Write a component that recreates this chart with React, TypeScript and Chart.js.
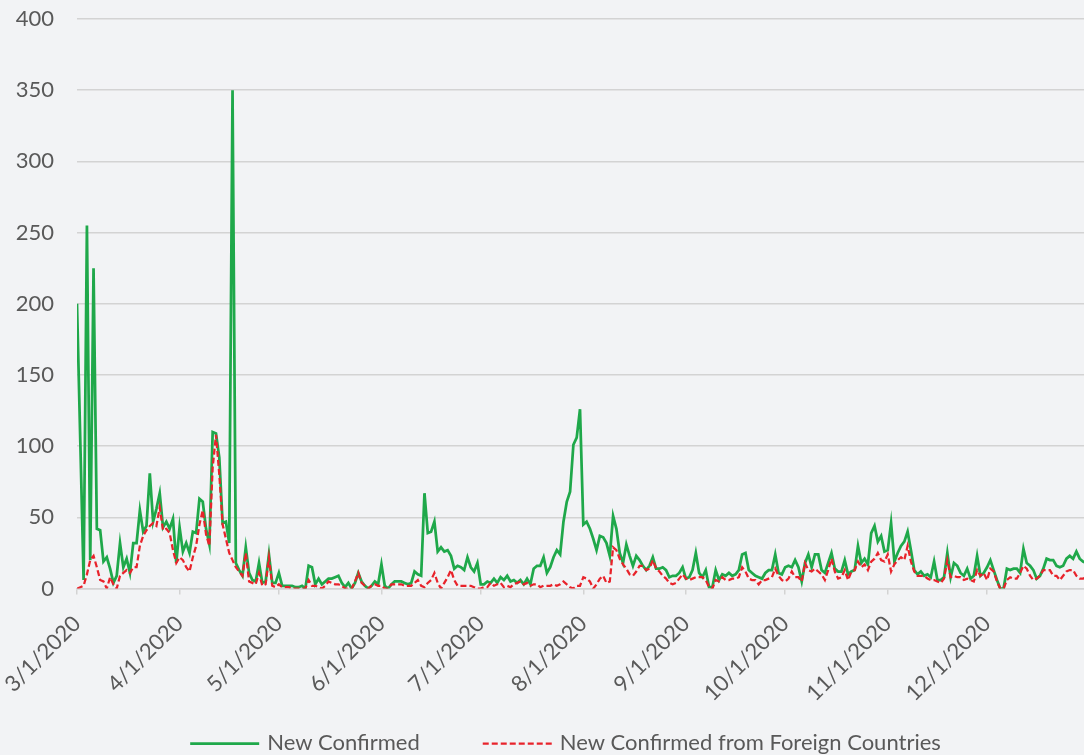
import React, { useEffect, useRef } from "react";
import { Chart, registerables } from "chart.js";

Chart.register(...registerables);

// ---- data (daily values from 3/1/2020, index 0) ----
const monthTickIndex = [0, 31, 61, 92, 122, 153, 184, 214, 245, 275];
const monthTickLabels = [
  "3/1/2020", "4/1/2020", "5/1/2020", "6/1/2020", "7/1/2020",
  "8/1/2020", "9/1/2020", "10/1/2020", "11/1/2020", "12/1/2020",
];
const seriesLabels = ["New Confirmed", "New Confirmed from Foreign Countries"];

const newConfirmed = [
  200, 103, 6, 255, 20, 225, 42, 41, 19, 22,
  14, 4, 9, 32, 15, 21, 11, 32, 32, 55,
  40, 44, 81, 47, 56, 67, 43, 47, 42, 49,
  18, 43, 26, 32, 25, 40, 39, 63, 61, 42,
  31, 110, 109, 92, 46, 47, 32, 350, 18, 13,
  9, 29, 11, 6, 5, 18, 4, 5, 24, 4,
  4, 11, 2, 2, 2, 2, 1, 1, 2, 0,
  16, 15, 3, 7, 3, 5, 7, 7, 8, 9,
  4, 1, 4, 0, 4, 11, 5, 2, 0, 2,
  5, 3, 17, 2, 0, 3, 5, 5, 5, 4,
  3, 4, 12, 10, 9, 67, 39, 40, 47, 26,
  29, 26, 27, 23, 14, 16, 15, 13, 22, 15,
  12, 18, 3, 3, 5, 4, 7, 4, 8, 6,
  9, 5, 6, 4, 6, 3, 7, 3, 14, 16,
  16, 22, 11, 15, 22, 27, 24, 47, 61, 68,
  101, 106, 126, 45, 47, 42, 35, 27, 37, 36,
  32, 23, 51, 42, 25, 18, 31, 23, 16, 23,
  20, 16, 13, 16, 22, 14, 14, 15, 13, 8,
  9, 9, 11, 15, 7, 8, 13, 25, 11, 8,
  13, 1, 1, 13, 6, 10, 9, 11, 9, 10,
  13, 24, 25, 13, 11, 9, 8, 7, 11, 13,
  13, 24, 11, 10, 15, 16, 15, 20, 15, 5,
  18, 24, 15, 24, 24, 13, 11, 18, 25, 14,
  12, 12, 20, 10, 12, 13, 30, 18, 21, 17,
  39, 44, 33, 37, 26, 27, 46, 19, 25, 30,
  33, 40, 27, 13, 10, 12, 9, 10, 8, 19,
  6, 6, 8, 25, 8, 18, 16, 11, 9, 14,
  7, 9, 23, 9, 11, 15, 20, 13, 6, 0,
  0, 14, 13, 14, 14, 11, 28, 18, 16, 13,
  7, 9, 14, 21, 20, 20, 16, 15, 16, 21,
  23, 21, 26, 21, 19, 18,
];

const newFromForeign = [
  0, 1, 2, 10, 20, 23, 15, 6, 5, 0,
  8, 3, 0, 9, 11, 13, 11, 15, 15, 30,
  37, 41, 44, 46, 44, 57, 41, 42, 39, 27,
  18, 22, 20, 15, 12, 22, 30, 45, 55, 38,
  30, 85, 108, 80, 45, 35, 25, 20, 15, 12,
  9, 25, 5, 4, 3, 11, 2, 3, 22, 2,
  1, 3, 1, 1, 1, 0, 0, 0, 0, 0,
  6, 2, 2, 1, 0, 2, 5, 4, 3, 3,
  2, 0, 0, 0, 5, 11, 4, 2, 0, 2,
  3, 2, 2, 0, 0, 3, 3, 3, 3, 2,
  2, 2, 4, 6, 2, 1, 4, 6, 11, 4,
  0, 4, 8, 13, 6, 2, 2, 2, 2, 2,
  1, 0, 0, 1, 1, 4, 2, 3, 4, 1,
  2, 1, 3, 4, 5, 3, 4, 2, 3, 3,
  1, 2, 2, 2, 3, 2, 3, 5, 3, 1,
  0, 2, 2, 8, 7, 5, 0, 3, 7, 9,
  4, 5, 29, 27, 21, 17, 14, 10, 9, 12,
  16, 16, 13, 14, 20, 14, 12, 9, 7, 4,
  3, 4, 7, 10, 7, 6, 7, 8, 8, 8,
  6, 1, 0, 6, 5, 8, 6, 6, 7, 7,
  8, 15, 12, 7, 6, 6, 3, 6, 6, 7,
  8, 14, 9, 6, 5, 7, 12, 8, 8, 5,
  18, 13, 12, 14, 12, 10, 6, 13, 21, 12,
  7, 8, 13, 6, 12, 13, 19, 15, 17, 13,
  19, 21, 25, 20, 19, 24, 12, 17, 20, 22,
  20, 30, 19, 12, 9, 9, 9, 7, 6, 6,
  5, 4, 7, 20, 8, 9, 8, 8, 6, 7,
  6, 5, 13, 9, 11, 6, 14, 12, 5, 0,
  0, 6, 8, 7, 7, 11, 16, 14, 9, 6,
  7, 9, 13, 13, 13, 9, 9, 6, 9, 12,
  13, 13, 9, 7, 7, 8,
];

// ---- layout / style ----
const WIDTH = 1084;
const HEIGHT = 755;
const FONT = "Lato";
const FONT_SIZE = 22;
const TEXT_COLOR = "#595959";
const GREEN = "#1fa84a";
const RED = "#e8232b";
const BG = "#f2f3f5";
const GRID = "#d3d3d3";
const PLOT_LEFT = 77;
const PLOT_TOP = 19;
const PLOT_BOTTOM = 588.6;
const VISIBLE_MAX = 304.3;
const LEGEND_CX = 565.5;
const LEGEND_Y = 742.5;
const LEGEND_SAMPLE = 69;
const LEGEND_GAP = 8;
const LEGEND_ITEM_GAP = 63;

const legendPlugin = {
  id: "customLegend",
  afterDraw(chart: any) {
    const ctx = chart.ctx as CanvasRenderingContext2D;
    ctx.save();
    ctx.font = `${FONT_SIZE}px ${FONT}`;
    const items = chart.data.datasets.map((ds: any) => ({
      ds,
      w: LEGEND_SAMPLE + LEGEND_GAP + ctx.measureText(ds.label).width,
    }));
    const total =
      items.reduce((a: number, b: any) => a + b.w, 0) + LEGEND_ITEM_GAP * (items.length - 1);
    let x = LEGEND_CX - total / 2;
    items.forEach(({ ds, w }: any) => {
      ctx.beginPath();
      ctx.setLineDash(ds.borderDash || []);
      ctx.lineWidth = ds.borderWidth;
      ctx.strokeStyle = ds.borderColor;
      ctx.moveTo(x, LEGEND_Y + 1);
      ctx.lineTo(x + LEGEND_SAMPLE, LEGEND_Y + 1);
      ctx.stroke();
      ctx.setLineDash([]);
      ctx.fillStyle = TEXT_COLOR;
      ctx.textAlign = "left";
      ctx.textBaseline = "middle";
      ctx.fillText(ds.label, x + LEGEND_SAMPLE + LEGEND_GAP, LEGEND_Y);
      x += w + LEGEND_ITEM_GAP;
    });
    ctx.restore();
  },
};

export default function App() {
  const ref = useRef<HTMLCanvasElement>(null);

  useEffect(() => {
    document.body.style.margin = "0";
    let chart: Chart | null = null;
    let cancelled = false;
    const font = { family: FONT, size: FONT_SIZE };
    const build = () => {
      if (cancelled || !ref.current) return;
      chart = new Chart(ref.current, {
        type: "line",
        data: {
          datasets: [
            {
              label: seriesLabels[0],
              data: newConfirmed.map((y, x) => ({ x, y })),
              borderColor: GREEN,
              backgroundColor: GREEN,
              borderWidth: 2.75,
              pointRadius: 0,
              tension: 0,
              fill: false,
              order: 1,
            },
            {
              label: seriesLabels[1],
              data: newFromForeign.map((y, x) => ({ x, y })),
              borderColor: RED,
              backgroundColor: RED,
              borderWidth: 2.25,
              borderDash: [6, 3],
              pointRadius: 0,
              tension: 0,
              fill: false,
              order: 0,
            },
          ],
        },
        options: {
          responsive: false,
          animation: false,
          devicePixelRatio: 1,
          layout: { padding: { top: PLOT_TOP, left: 0, right: 0, bottom: 0 } },
          plugins: { legend: { display: false }, tooltip: { enabled: false } },
          scales: {
            x: {
              type: "linear",
              min: 0,
              max: VISIBLE_MAX,
              afterBuildTicks: (axis: any) => {
                axis.ticks = monthTickIndex.map((value) => ({ value }));
              },
              afterFit: (axis: any) => {
                axis.height = HEIGHT - PLOT_BOTTOM;
                axis.paddingLeft = 0;
                axis.paddingRight = 0;
              },
              grid: {
                drawOnChartArea: false,
                drawTicks: true,
                tickLength: 6,
                color: GRID,
                lineWidth: 1.5,
              },
              border: { display: true, color: GRID, width: 1.5 },
              ticks: {
                autoSkip: false,
                minRotation: 45,
                maxRotation: 45,
                padding: 16,
                color: TEXT_COLOR,
                font,
                callback: (v: any) => monthTickLabels[monthTickIndex.indexOf(Number(v))] ?? "",
              },
            },
            y: {
              min: 0,
              max: 400,
              afterFit: (axis: any) => {
                axis.width = PLOT_LEFT;
                axis.paddingTop = 0;
                axis.paddingBottom = 0;
              },
              grid: { color: GRID, lineWidth: 1.5, drawTicks: false },
              border: { display: false },
              ticks: { stepSize: 50, padding: 23, color: TEXT_COLOR, font },
            },
          },
        },
        plugins: [legendPlugin],
      } as any);
    };
    const fonts = (document as any).fonts;
    if (fonts && fonts.load) {
      fonts.load(`${FONT_SIZE}px ${FONT}`).then(build, build);
    } else {
      build();
    }
    return () => {
      cancelled = true;
      if (chart) chart.destroy();
    };
  }, []);

  return (
    <div style={{ width: WIDTH, height: HEIGHT, background: BG, overflow: "hidden" }}>
      <canvas ref={ref} width={WIDTH} height={HEIGHT} style={{ display: "block" }} />
    </div>
  );
}
